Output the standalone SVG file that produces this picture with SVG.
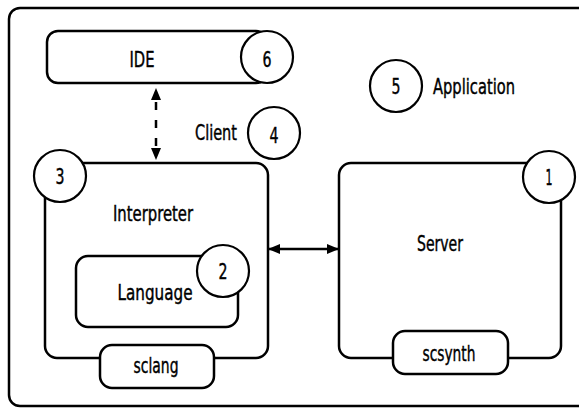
<svg xmlns="http://www.w3.org/2000/svg" width="579" height="409" viewBox="0 0 579 409">
<defs>
<style>
.box{fill:#fff;stroke:#000;stroke-width:2.5}
.circ{fill:#fff;stroke:#000;stroke-width:2.2}
.t{font-family:"Liberation Sans Narrow","DejaVu Sans Condensed","Liberation Sans",sans-serif;font-stretch:condensed;font-size:21px;fill:#000;stroke:#000;stroke-width:0.4;text-anchor:middle}
.ln{stroke:#000;stroke-width:2.5;fill:none}
</style>
<marker id="ah" viewBox="0 0 12 10" refX="12" refY="5" markerWidth="12" markerHeight="10" markerUnits="userSpaceOnUse" orient="auto-start-reverse">
<path d="M0,0 L12,5 L0,10 Z" fill="#000"/>
</marker>
</defs>
<rect id="frame" x="9" y="8" width="600" height="398" rx="11" fill="#fff" stroke="#000" stroke-width="2.5"/>
<g id="ide">
<rect class="box" x="47" y="31" width="220" height="52" rx="11"/>
<text class="t" x="142" y="67" textLength="25" lengthAdjust="spacingAndGlyphs">IDE</text>
</g>
<g id="c6"><circle class="circ" cx="267" cy="57" r="26"/><text class="t" x="267" y="67" textLength="9" lengthAdjust="spacingAndGlyphs">6</text></g>
<g id="client">
<text class="t" x="216" y="140" textLength="42" lengthAdjust="spacingAndGlyphs">Client</text>
</g>
<g id="c4"><circle class="circ" cx="274" cy="133" r="26"/><text class="t" x="274" y="143" textLength="9" lengthAdjust="spacingAndGlyphs">4</text></g>
<g id="app">
<text class="t" x="474" y="94" textLength="82" lengthAdjust="spacingAndGlyphs">Application</text>
</g>
<g id="c5"><circle class="circ" cx="396" cy="86" r="26"/><text class="t" x="396" y="94" textLength="9" lengthAdjust="spacingAndGlyphs">5</text></g>
<g id="interpreter">
<rect class="box" x="45" y="163" width="223" height="195" rx="12"/>
<text class="t" x="153" y="221" textLength="80" lengthAdjust="spacingAndGlyphs">Interpreter</text>
</g>
<g id="c3"><circle class="circ" cx="60" cy="176" r="26"/><text class="t" x="60" y="184" textLength="9" lengthAdjust="spacingAndGlyphs">3</text></g>
<g id="language">
<rect class="box" x="76" y="256" width="162" height="71" rx="12"/>
<text class="t" x="155" y="300" textLength="75" lengthAdjust="spacingAndGlyphs">Language</text>
</g>
<g id="c2"><circle class="circ" cx="223" cy="271" r="26"/><text class="t" x="223" y="279" textLength="9" lengthAdjust="spacingAndGlyphs">2</text></g>
<g id="sclang">
<rect class="box" x="100" y="345" width="114" height="43" rx="12"/>
<text class="t" x="156" y="373" textLength="45" lengthAdjust="spacingAndGlyphs">sclang</text>
</g>
<g id="server">
<rect class="box" x="339" y="163" width="222" height="195" rx="12"/>
<text class="t" x="440" y="251" textLength="46" lengthAdjust="spacingAndGlyphs">Server</text>
</g>
<g id="c1"><circle class="circ" cx="549" cy="177" r="26"/><text class="t" x="549" y="185" textLength="7" lengthAdjust="spacingAndGlyphs">1</text></g>
<g id="scsynth">
<rect class="box" x="393" y="331" width="115" height="43" rx="12"/>
<text class="t" x="449" y="361" textLength="53" lengthAdjust="spacingAndGlyphs">scsynth</text>
</g>
<g id="connectors">
<line class="ln" x1="156" y1="88" x2="156" y2="160" stroke-dasharray="0,14,8,10,8,10,8,40" marker-start="url(#ah)" marker-end="url(#ah)"/>
<line class="ln" x1="268" y1="249" x2="339" y2="249" marker-start="url(#ah)" marker-end="url(#ah)"/>
</g>
</svg>
